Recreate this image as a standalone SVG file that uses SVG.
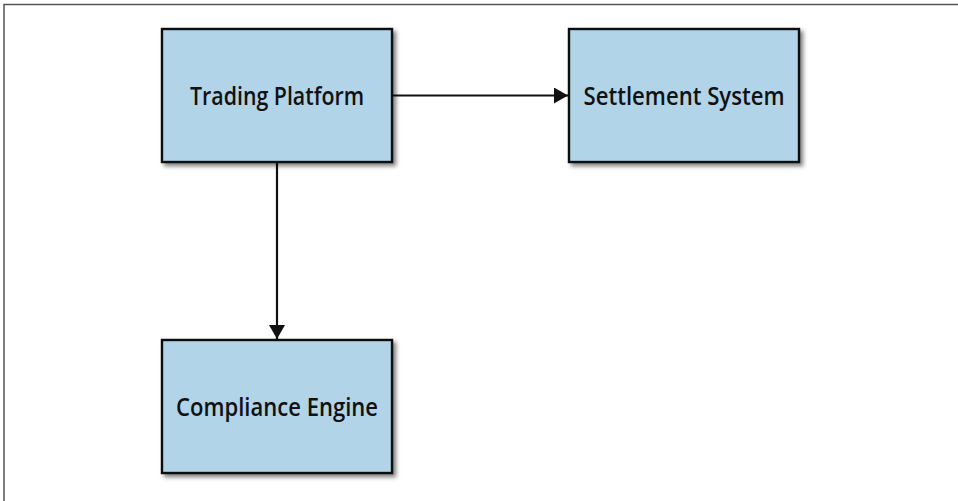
<svg xmlns="http://www.w3.org/2000/svg" width="958" height="501" viewBox="0 0 958 501">
<defs>
<style>
.box{fill:#b1d4e9;stroke:#111;stroke-width:2.4;filter:url(#sh)}
.lbl{font-family:"Open Sans","Liberation Sans",sans-serif;font-size:25.5px;font-weight:600;fill:#111;text-anchor:middle}
.conn{stroke:#111;stroke-width:2.2;fill:none}
</style>
<filter id="sh" x="-10%" y="-10%" width="130%" height="130%">
<feDropShadow dx="3" dy="3" stdDeviation="2" flood-color="#000" flood-opacity="0.5"/>
</filter>
<marker id="ah" markerWidth="15" markerHeight="16" refX="14" refY="8" orient="auto" markerUnits="userSpaceOnUse">
<path d="M0,0 L14,8 L0,16 Z" fill="#111"/>
</marker>
</defs>
<rect width="958" height="501" fill="#fff"/>
<path d="M4,501 V4.5 H958" fill="none" stroke="#555" stroke-width="1.5"/>
<g id="connectors">
<line class="conn" x1="393" y1="95.5" x2="568" y2="95.5" marker-end="url(#ah)"/>
<line class="conn" x1="277" y1="163" x2="277" y2="339" marker-end="url(#ah)"/>
</g>
<g id="trading-platform">
<rect class="box" x="162" y="29" width="230" height="133"/>
<text class="lbl" x="277" y="104.5" textLength="174" lengthAdjust="spacingAndGlyphs">Trading Platform</text>
</g>
<g id="settlement-system">
<rect class="box" x="569" y="29" width="230" height="133"/>
<text class="lbl" x="684" y="104.5" textLength="201" lengthAdjust="spacingAndGlyphs">Settlement System</text>
</g>
<g id="compliance-engine">
<rect class="box" x="162" y="340" width="230" height="133"/>
<text class="lbl" x="277" y="415.5" textLength="202" lengthAdjust="spacingAndGlyphs">Compliance Engine</text>
</g>
</svg>
